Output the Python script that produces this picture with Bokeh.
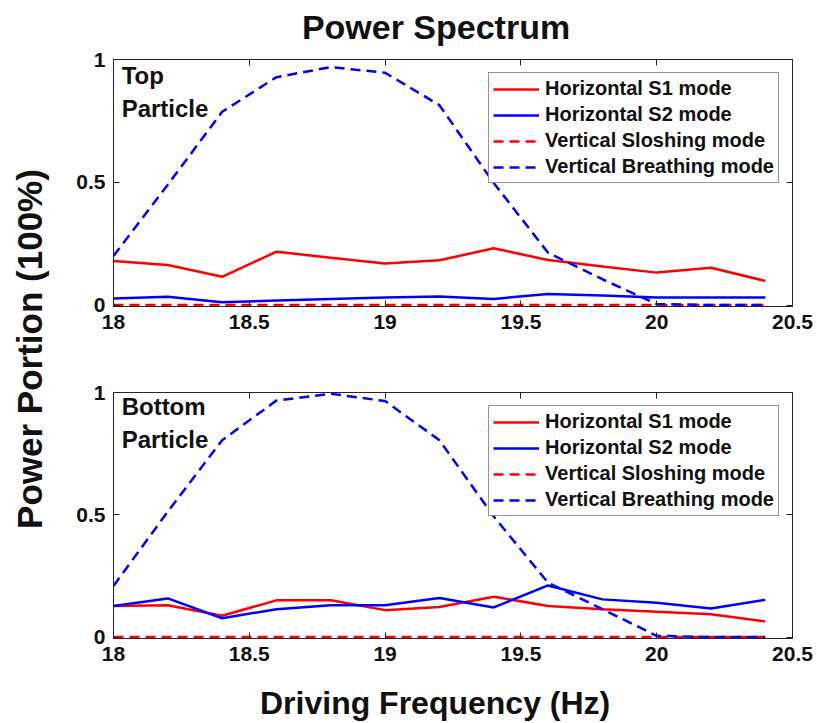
import math
from bokeh.plotting import figure
from bokeh.models import (Range1d, FixedTicker, LinearAxis, Label, Legend, LegendItem,
                          CustomJSTickFormatter)
from bokeh.layouts import row, column
from bokeh.embed import file_html
from bokeh.resources import INLINE

# ---------------- data ----------------
freq = [18.0, 18.2, 18.4, 18.6, 18.8, 19.0, 19.2, 19.4, 19.6, 19.8, 20.0, 20.2, 20.4]

top_s1 = [0.179, 0.163, 0.115, 0.217, 0.193, 0.169, 0.182, 0.231, 0.183, 0.157, 0.132, 0.152, 0.098]
top_s2 = [0.027, 0.034, 0.011, 0.018, 0.025, 0.031, 0.035, 0.025, 0.045, 0.039, 0.031, 0.031, 0.031]
top_slosh = [0.0, 0.0, 0.0, 0.0, 0.0, 0.0, 0.0, 0.0, 0.0, 0.0, 0.0, 0.0, 0.0]
top_breath = [0.200, 0.490, 0.787, 0.928, 0.969, 0.946, 0.814, 0.497, 0.213, 0.105, 0.004, 0.0, 0.0]

bot_s1 = [0.127, 0.130, 0.087, 0.150, 0.150, 0.110, 0.123, 0.165, 0.127, 0.114, 0.103, 0.093, 0.064]
bot_s2 = [0.127, 0.158, 0.077, 0.114, 0.130, 0.130, 0.160, 0.121, 0.211, 0.154, 0.140, 0.117, 0.152]
bot_slosh = [0.0, 0.0, 0.0, 0.0, 0.0, 0.0, 0.0, 0.0, 0.0, 0.0, 0.0, 0.0, 0.0]
bot_breath = [0.209, 0.513, 0.805, 0.967, 0.995, 0.965, 0.805, 0.493, 0.222, 0.114, 0.005, 0.0, 0.0]

series_names = ["Horizontal S1 mode", "Horizontal S2 mode",
                "Vertical Sloshing mode", "Vertical Breathing mode"]
x_ticks = [18, 18.5, 19, 19.5, 20, 20.5]
y_ticks = [0, 0.5, 1]

title_text = "Power Spectrum"
x_label_text = "Driving Frequency (Hz)"
y_label_text = "Power Portion (100%)"

FONT = "Liberation Sans"
AX_COLOR = "#262626"
TXT_COLOR = "#111111"
RED = "#ff0000"
BLUE = "#0000ff"


def style_axis(ax, ticks, show_labels=True):
    ax.ticker = FixedTicker(ticks=ticks)
    ax.major_tick_in = 6
    ax.major_tick_out = 0
    ax.minor_tick_line_color = None
    ax.axis_line_color = AX_COLOR
    ax.major_tick_line_color = AX_COLOR
    ax.major_label_text_font = FONT
    ax.major_label_text_font_style = "bold"
    ax.major_label_text_font_size = "21px"
    ax.major_label_text_color = TXT_COLOR
    if show_labels:
        ax.major_label_standoff = 8
        ax.formatter = CustomJSTickFormatter(code="return tick.toString();")
    else:
        ax.major_label_standoff = 0
        ax.formatter = CustomJSTickFormatter(code="return '';")


def make_panel(s1, s2, slosh, breath, height, top, bottom):
    p = figure(width=760, height=height,
               x_range=Range1d(18, 20.5), y_range=Range1d(-0.006, 1),
               toolbar_location=None, output_backend="svg", title=None,
               min_border_left=57, min_border_right=24,
               min_border_top=top, min_border_bottom=bottom)
    p.xgrid.grid_line_color = None
    p.ygrid.grid_line_color = None
    p.outline_line_color = AX_COLOR
    p.background_fill_color = "white"
    p.border_fill_color = "white"
    style_axis(p.xaxis[0], x_ticks)
    style_axis(p.yaxis[0], y_ticks)
    ax_top = LinearAxis()
    style_axis(ax_top, x_ticks, show_labels=False)
    p.add_layout(ax_top, "above")
    ax_right = LinearAxis()
    style_axis(ax_right, y_ticks, show_labels=False)
    p.add_layout(ax_right, "right")

    r1 = p.line(freq, s1, line_color=RED, line_width=2.5)
    r2 = p.line(freq, s2, line_color=BLUE, line_width=2.5)
    r3 = p.line(freq, slosh, line_color=RED, line_width=2.5, line_dash="10 6")
    r4 = p.line(freq, breath, line_color=BLUE, line_width=2.5, line_dash="10 6")

    legend = Legend(items=[LegendItem(label=n, renderers=[r])
                           for n, r in zip(series_names, [r1, r2, r3, r4])],
                    location="top_right", margin=13, padding=4, spacing=3,
                    glyph_width=46, glyph_height=22, label_height=22, label_standoff=6,
                    label_text_font=FONT, label_text_font_style="bold",
                    label_text_font_size="20px", label_text_color=TXT_COLOR,
                    border_line_color=AX_COLOR, border_line_width=1,
                    background_fill_color="white", background_fill_alpha=1)
    p.add_layout(legend)
    return p


def add_text(p, x, y, text, size, align="left", baseline="alphabetic", angle=0.0):
    p.add_layout(Label(x=x, y=y, text=text, text_font=FONT, text_font_style="bold",
                       text_font_size=size, text_color=TXT_COLOR, text_align=align,
                       text_baseline=baseline, angle=angle))


p1 = make_panel(top_s1, top_s2, top_slosh, top_breath, 304, 13, 44)
p2 = make_panel(bot_s1, bot_s2, bot_slosh, bot_breath, 322, 42, 34)

add_text(p1, 18.03, 0.934, "Top", "24px")
add_text(p1, 18.03, 0.800, "Particle", "24px")
add_text(p2, 18.03, 0.942, "Bottom", "24px")
add_text(p2, 18.03, 0.807, "Particle", "24px")


def strip(width, height):
    f = figure(width=width, height=height, x_range=Range1d(0, width),
               y_range=Range1d(0, height), x_axis_type=None, y_axis_type=None,
               toolbar_location=None, output_backend="svg", title=None,
               min_border=0, min_border_left=0, min_border_right=0,
               min_border_top=0, min_border_bottom=0)
    f.outline_line_color = None
    return f


# title strip (above top panel)
pt = strip(760, 46)
add_text(pt, 361, 20, title_text, "34px", "center")

# x label strip (below bottom panel)
px = strip(760, 50)
add_text(px, 360, 20, x_label_text, "32px", "center")

# y label strip (left of both panels)
py = strip(56, 722)
add_text(py, 29, 373.5, y_label_text, "35px", "center", "middle", math.pi / 2)

layout = row(py, column(pt, p1, p2, px))

open("out.html", "w").write(file_html(layout, INLINE))
